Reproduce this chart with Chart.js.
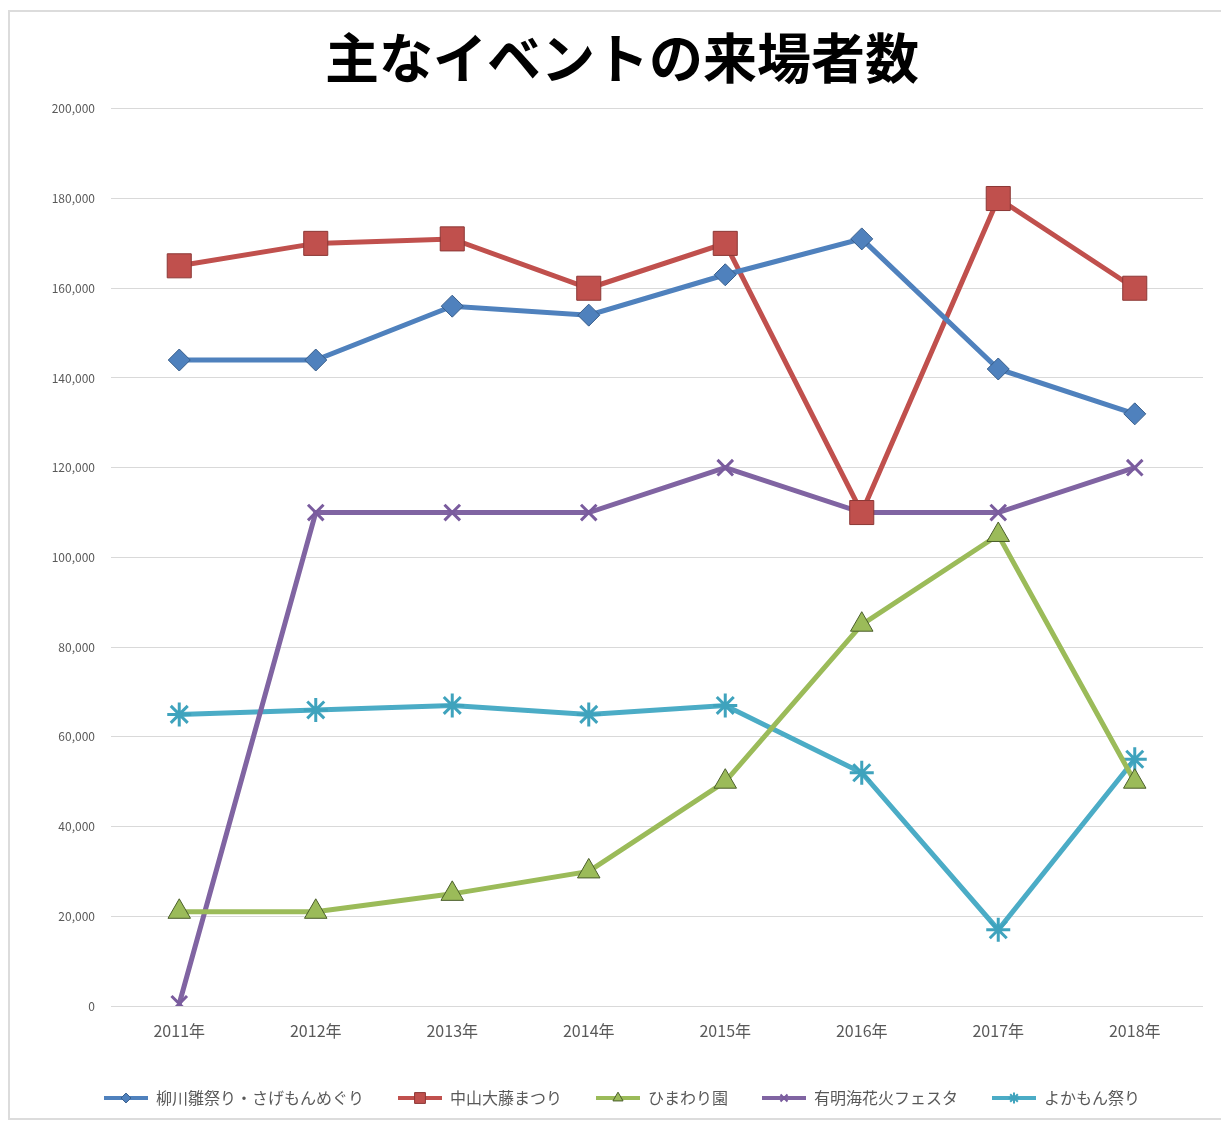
<html>
<head>
  <meta charset="utf-8">
  <script src="https://cdn.jsdelivr.net/npm/chart.js@4.4.1/dist/chart.umd.min.js"></script>
  <style>
    body { margin: 0; background: #fff; }
    #frame {
      position: absolute; left: 8px; top: 10px; width: 1230px; height: 1110px;
      border: 2px solid #dcdcdc; box-sizing: border-box;
    }
    #wrap { position: absolute; left: 0; top: 0; width: 1221px; height: 1124px; }
  </style>
</head>
<body>
  <div id="frame"></div>
  <div id="wrap"><canvas id="chart" width="1221" height="1124"></canvas></div>

<script>
  // data
  var years = ['2011年', '2012年', '2013年', '2014年', '2015年', '2016年', '2017年', '2018年'];
  var yanagawa = [144000, 144000, 156000, 154000, 163000, 171000, 142000, 132000];
  var nakayama = [165000, 170000, 171000, 160000, 170000, 110000, 180000, 160000];
  var himawari = [21000, 21000, 25000, 30000, 50000, 85000, 105000, 50000];
  var ariake = [500, 110000, 110000, 110000, 120000, 110000, 110000, 120000];
  var yokamon = [65000, 66000, 67000, 65000, 67000, 52000, 17000, 55000];
  var names = ['柳川雛祭り・さげもんめぐり', '中山大藤まつり', 'ひまわり園', '有明海花火フェスタ', 'よかもん祭り'];

  var jp = '"Noto Sans CJK JP", "Noto Sans", sans-serif';

  function series(label, data, color, edge, style, radius, bw) {
    return {
      label: label,
      data: data,
      borderColor: color,
      backgroundColor: color,
      borderWidth: 5,
      pointStyle: style,
      pointRadius: radius,
      pointHoverRadius: radius,
      pointBackgroundColor: color,
      pointBorderColor: edge,
      pointBorderWidth: bw,
      tension: 0
    };
  }

  var datasets = [
    series(names[0], yanagawa, '#4f81bd', '#385d8a', 'rectRot', 11, 1),
    series(names[1], nakayama, '#c0504d', '#8c3836', 'rect', 17, 1),
    series(names[2], himawari, '#9bbb59', '#4a5e2a', 'triangle', 13, 1),
    series(names[3], ariake, '#8064a2', '#7a5c9e', 'crossRot', 11, 3),
    series(names[4], yokamon, '#4bacc6', '#3fa3bd', 'star', 12, 3)
  ];

  // legend swatch: short line with the marker in the middle
  function swatch(ds) {
    var c = document.createElement('canvas');
    c.width = 44; c.height = 16;
    var ctx = c.getContext('2d');
    ctx.strokeStyle = ds.borderColor;
    ctx.lineWidth = 4;
    ctx.beginPath(); ctx.moveTo(0, 8); ctx.lineTo(44, 8); ctx.stroke();
    ctx.fillStyle = ds.pointBackgroundColor;
    ctx.strokeStyle = ds.pointBorderColor;
    ctx.lineWidth = ds.pointBorderWidth > 1 ? 2 : 1;
    Chart.helpers.drawPoint(ctx, {
      pointStyle: ds.pointStyle, radius: ds.pointRadius * 0.45,
      rotation: 0, borderWidth: ctx.lineWidth
    }, 22, 8);
    return c;
  }
  var swatches = datasets.map(swatch);

  new Chart(document.getElementById('chart'), {
    type: 'line',
    data: { labels: years, datasets: datasets },
    options: {
      responsive: false,
      animation: false,
      layout: { padding: { top: 0, right: 12, bottom: 8, left: 35 } },
      plugins: {
        title: {
          display: true,
          text: '主なイベントの来場者数',
          color: '#000',
          font: { family: jp, size: 54, weight: 'bold' },
          padding: { top: 26, bottom: 18 }
        },
        legend: {
          position: 'bottom',
          labels: {
            usePointStyle: true,
            pointStyleWidth: 44,
            padding: 34,
            color: '#595959',
            font: { family: jp, size: 16 },
            generateLabels: function (chart) {
              var items = Chart.defaults.plugins.legend.labels.generateLabels(chart);
              items.forEach(function (it, i) { it.pointStyle = swatches[i]; });
              return items;
            }
          }
        },
        tooltip: { enabled: false }
      },
      scales: {
        x: {
          offset: true,
          grid: { display: false, drawTicks: false },
          border: { display: false },
          ticks: { color: '#595959', font: { family: jp, size: 16 }, padding: 15 },
          afterFit: function (s) { s.height = 50; s.paddingLeft = 0; s.paddingRight = 0; }
        },
        y: {
          min: 0,
          max: 200000,
          grid: { color: '#d9d9d9', lineWidth: 1, drawTicks: false },
          border: { display: false },
          ticks: {
            stepSize: 20000,
            color: '#595959',
            font: { family: jp, size: 12 },
            padding: 16,
            callback: function (v) { return v.toLocaleString('en-US'); }
          },
          afterFit: function (s) { s.width = 76; }
        }
      }
    }
  });
</script>
</body>
</html>
